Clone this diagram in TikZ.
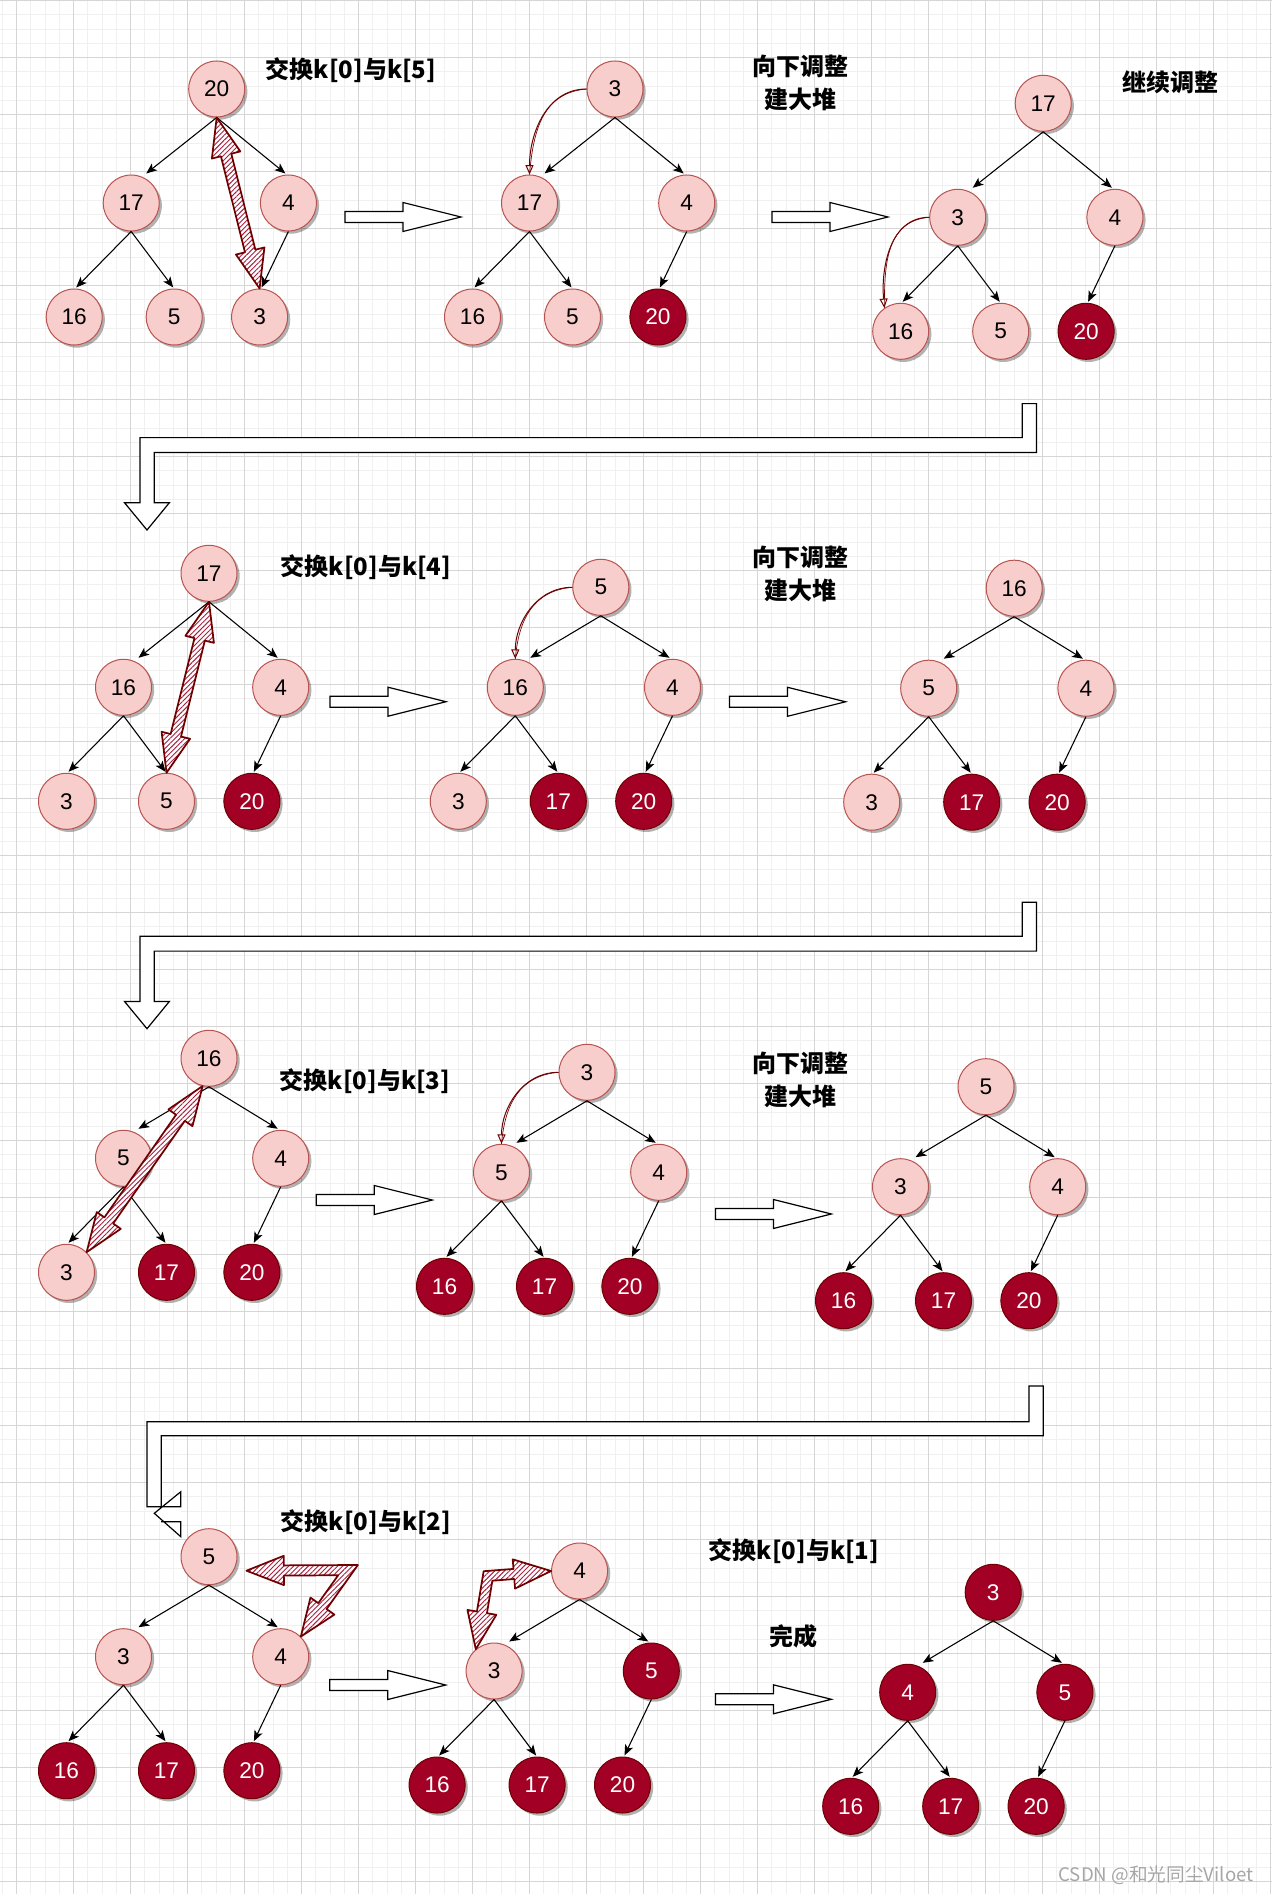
\documentclass[tikz,border=0pt]{standalone}
\usepackage{fontspec}
\setmainfont{Liberation Sans}
\newfontfamily\cjk{Noto Sans CJK SC}
\usetikzlibrary{arrows.meta,calc,shadows,patterns.meta}

\definecolor{nodefill}{HTML}{F8CECC}
\definecolor{nodeline}{HTML}{B85450}
\definecolor{donefill}{HTML}{A20025}
\definecolor{doneline}{HTML}{6F0000}
\definecolor{swapline}{HTML}{6F0000}
\definecolor{swaphatch}{HTML}{A8203F}
\definecolor{gridmajor}{HTML}{D6D6D6}
\definecolor{gridminor}{HTML}{F0F0F0}

\tikzset{
  heapnode/.style={circle, minimum size=42pt, inner sep=0pt, line width=0.75pt,
    font=\fontsize{17}{17}\selectfont,
    drop shadow={shadow xshift=2pt, shadow yshift=-2pt, opacity=0.3, fill=black}},
  pinknode/.style={heapnode, fill=nodefill, draw=nodeline},
  rednode/.style={heapnode, fill=donefill, draw=doneline, text=white},
  link/.style={draw=black, line width=0.8pt, -{Stealth[length=8pt,width=6.5pt,inset=2pt]}},
  blockarr/.style={draw=black, fill=white, line width=0.9pt, line join=miter},
  swapshape/.style={draw=swapline, line width=1.3pt, line join=round,
    preaction={fill=white},
    pattern={Lines[angle=45,distance=2.6pt,line width=0.7pt]}, pattern color=swaphatch},
  curvearr/.style={draw=swapline, line width=0.75pt, -{Triangle[open,length=7pt,width=6pt]}},
  curveline/.style={draw=swapline, line width=0.5pt},
  lbl/.style={font=\cjk\bfseries\fontsize{18}{24.75}\selectfont, align=center, inner sep=0pt},
}

% one heap: prefix, root position, level gap, then the six nodes (root, left, right, three leaves)
\newcommand\heap[9]{%
  \begin{scope}[shift={(#2)}]
    \node (#1r) at (0,0) #4;
    \node (#1a) at (-85.5,#3) #5;
    \node (#1b) at (71.7,#3) #6;
    \node (#1c) at (-142.5,#3+114) #7;
    \node (#1d) at (-42.5,#3+114) #8;
    \node (#1e) at (42.9,#3+114) #9;
  \end{scope}
  \draw[link] (#1r.south) -- ($(#1a.north)+(15,-1)$);
  \draw[link] (#1r.south) -- ($(#1b.north)+(-3,-1)$);
  \draw[link] (#1a.south) -- ($(#1c.north)+(2,-1)$);
  \draw[link] (#1a.south) -- ($(#1d.north)+(-1,-1)$);
  \draw[link] (#1b.south) -- ($(#1e.north)+(2,-1)$);
}

% hollow right-pointing block arrow: start x, centre y
\newcommand\rarrow[2]{\draw[blockarr] (#1,#2) ++(0,-5.5) -- ++(58,0) -- ++(0,-9)
  -- ++(58,14.5) -- ++(-58,14.5) -- ++(0,-9) -- ++(-58,0) -- cycle;}

% straight double-headed hatched arrow: tip A, tip B, head length, head half-width, shaft half-width
\newcommand\dswap[5]{%
  \draw[swapshape] (#1) -- ($(#1)!#3!(#2)!#4!90:(#2)$) -- ($(#1)!#3!(#2)!#5!90:(#2)$)
    -- ($(#2)!#3!(#1)!#5!-90:(#1)$) -- ($(#2)!#3!(#1)!#4!-90:(#1)$) -- (#2)
    -- ($(#2)!#3!(#1)!#4!90:(#1)$) -- ($(#2)!#3!(#1)!#5!90:(#1)$)
    -- ($(#1)!#3!(#2)!#5!-90:(#2)$) -- ($(#1)!#3!(#2)!#4!-90:(#2)$) -- cycle;}

% bent double-headed hatched arrow: prefix, tip A, corner M, tip B, head length, head half-width, shaft half-width
\newcommand\bentswap[7]{%
  \coordinate (#1A) at (#2); \coordinate (#1M) at (#3); \coordinate (#1B) at (#4);
  \coordinate (#1l1) at ($(#1A)!#7!90:(#1M)$);
  \coordinate (#1l2) at ($(#1M)!#7!-90:(#1A)$);
  \coordinate (#1l3) at ($(#1M)!#7!90:(#1B)$);
  \coordinate (#1l4) at ($(#1B)!#7!-90:(#1M)$);
  \coordinate (#1L) at (intersection of #1l1--#1l2 and #1l3--#1l4);
  \coordinate (#1r1) at ($(#1A)!#7!-90:(#1M)$);
  \coordinate (#1r2) at ($(#1M)!#7!90:(#1A)$);
  \coordinate (#1r3) at ($(#1M)!#7!-90:(#1B)$);
  \coordinate (#1r4) at ($(#1B)!#7!90:(#1M)$);
  \coordinate (#1R) at (intersection of #1r1--#1r2 and #1r3--#1r4);
  \draw[swapshape] (#1A) -- ($(#1A)!#5!(#1M)!#6!90:(#1M)$) -- ($(#1A)!#5!(#1M)!#7!90:(#1M)$)
    -- (#1L) -- ($(#1B)!#5!(#1M)!#7!-90:(#1M)$) -- ($(#1B)!#5!(#1M)!#6!-90:(#1M)$) -- (#1B)
    -- ($(#1B)!#5!(#1M)!#6!90:(#1M)$) -- ($(#1B)!#5!(#1M)!#7!90:(#1M)$)
    -- (#1R) -- ($(#1A)!#5!(#1M)!#7!-90:(#1M)$) -- ($(#1A)!#5!(#1M)!#6!-90:(#1M)$) -- cycle;}

\begin{document}
\begin{tikzpicture}[x=0.75pt, y=-0.75pt]
  \fill[white] (0,0) rectangle (1272,1894);
  \useasboundingbox (0,0) rectangle (1272,1894);

  % background grid
  \foreach \i in {0,...,89}
    \draw[gridminor, line width=0.75pt] ({2.45+14.25*\i},0) -- ({2.45+14.25*\i},1894);
  \foreach \i in {0,...,132}
    \draw[gridminor, line width=0.75pt] (0,{0.7+14.25*\i}) -- (1272,{0.7+14.25*\i});
  \foreach \i in {0,...,22}
    \draw[gridmajor, line width=0.9pt] ({16.7+57*\i},0) -- ({16.7+57*\i},1894);
  \foreach \i in {0,...,33}
    \draw[gridmajor, line width=0.9pt] (0,{0.7+57*\i}) -- (1272,{0.7+57*\i});

  % step arrows between heaps
  \rarrow{345}{217}
  \rarrow{772}{217}
  \rarrow{330}{701.7}
  \rarrow{729.5}{701.8}
  \rarrow{316.3}{1200}
  \rarrow{715.4}{1214}
  \rarrow{329.8}{1685}
  \rarrow{715.4}{1699.3}

  % return arrows to the next row
  \draw[blockarr] (1022.3,403.6) -- (1022.3,437.6) -- (140,437.6) -- (140,502.7) -- (124.5,502.7)
    -- (147,530) -- (169.4,502.7) -- (154.3,502.7) -- (154.3,452.4) -- (1036.4,452.4)
    -- (1036.4,403.6) -- cycle;
  \begin{scope}[shift={(0,498.7)}]
    \draw[blockarr] (1022.3,403.6) -- (1022.3,437.6) -- (140,437.6) -- (140,502.7) -- (124.5,502.7)
      -- (147,530) -- (169.4,502.7) -- (154.3,502.7) -- (154.3,452.4) -- (1036.4,452.4)
      -- (1036.4,403.6) -- cycle;
  \end{scope}
  \fill[white] (1029,1386) -- (1029,1421.7) -- (147,1421.7) -- (147,1506.7) -- (180.8,1506.7)
    -- (180.8,1521.7) -- (161.2,1521.7) -- (161.2,1435.7) -- (1043.2,1435.7) -- (1043.2,1386) -- cycle;
  \fill[white] (180.8,1491.7) -- (154.3,1513.3) -- (180.8,1536.7) -- cycle;
  \draw[black, line width=0.9pt] (161.2,1507.7) -- (161.2,1435.7) -- (1043.2,1435.7) -- (1043.2,1386)
    -- (1029,1386) -- (1029,1421.7) -- (147,1421.7) -- (147,1506.7) -- (180.8,1506.7)
    -- (180.8,1491.7) -- (154.3,1513.3) -- (180.8,1536.7) -- (180.8,1521.7) -- (161.2,1521.7);

  % heaps
  \heap{t1}{216.7,89}{114}{[pinknode]{20}}{[pinknode]{17}}{[pinknode]{4}}{[pinknode]{16}}{[pinknode]{5}}{[pinknode]{3}}
  \heap{t2}{615,89}{114}{[pinknode]{3}}{[pinknode]{17}}{[pinknode]{4}}{[pinknode]{16}}{[pinknode]{5}}{[rednode]{20}}
  \heap{t3}{1043.2,103.3}{114}{[pinknode]{17}}{[pinknode]{3}}{[pinknode]{4}}{[pinknode]{16}}{[pinknode]{5}}{[rednode]{20}}
  \heap{t4}{209,573.3}{114}{[pinknode]{17}}{[pinknode]{16}}{[pinknode]{4}}{[pinknode]{3}}{[pinknode]{5}}{[rednode]{20}}
  \heap{t5}{600.8,587.3}{100}{[pinknode]{5}}{[pinknode]{16}}{[pinknode]{4}}{[pinknode]{3}}{[rednode]{17}}{[rednode]{20}}
  \heap{t6}{1014.2,588.2}{100}{[pinknode]{16}}{[pinknode]{5}}{[pinknode]{4}}{[pinknode]{3}}{[rednode]{17}}{[rednode]{20}}
  \heap{t7}{209,1058.3}{100}{[pinknode]{16}}{[pinknode]{5}}{[pinknode]{4}}{[pinknode]{3}}{[rednode]{17}}{[rednode]{20}}
  \heap{t8}{587,1072.3}{100}{[pinknode]{3}}{[pinknode]{5}}{[pinknode]{4}}{[rednode]{16}}{[rednode]{17}}{[rednode]{20}}
  \heap{t9}{986,1086.7}{100}{[pinknode]{5}}{[pinknode]{3}}{[pinknode]{4}}{[rednode]{16}}{[rednode]{17}}{[rednode]{20}}
  \heap{t10}{209,1556.7}{100}{[pinknode]{5}}{[pinknode]{3}}{[pinknode]{4}}{[rednode]{16}}{[rednode]{17}}{[rednode]{20}}
  \heap{t11}{579.6,1571}{100}{[pinknode]{4}}{[pinknode]{3}}{[rednode]{5}}{[rednode]{16}}{[rednode]{17}}{[rednode]{20}}
  \heap{t12}{993.2,1592.3}{100}{[rednode]{3}}{[rednode]{4}}{[rednode]{5}}{[rednode]{16}}{[rednode]{17}}{[rednode]{20}}

  % sift-down paths
  \draw[curveline] (t2r.west) to[out=185,in=85,looseness=1.1] (t2a.north);
  \draw[curvearr] (t2r.west) to[out=180,in=90] (t2a.north);
  \draw[curveline] (t3a.west) to[out=185,in=90,looseness=1.1] (t3c.125);
  \draw[curvearr] (t3a.west) to[out=180,in=95] (t3c.125);
  \draw[curveline] (t5r.west) to[out=185,in=85,looseness=1.1] (t5a.north);
  \draw[curvearr] (t5r.west) to[out=180,in=90] (t5a.north);
  \draw[curveline] (t8r.west) to[out=185,in=85,looseness=1.1] (t8a.north);
  \draw[curvearr] (t8r.west) to[out=180,in=90] (t8a.north);

  % swaps of the root with the last unsorted element
  \dswap{t1r.south}{t1e.north}{29pt}{11pt}{4pt}
  \dswap{t4r.south}{t4d.north}{29pt}{11pt}{4pt}
  \dswap{t7r.-103}{t7c.45}{29pt}{11pt}{4pt}
  \bentswap{sa}{$(t10r.east)+(9,14)$}{348,1570}{t10b.45}{28pt}{11pt}{3.8pt}
  \bentswap{sb}{t11r.west}{488,1576}{t11a.130}{28pt}{11pt}{3.8pt}

  % captions
  \node[lbl] (s1) at (351,70) {交换k[0]与k[5]};
  \node[lbl] (s2) at (800,82.5) {向下调整\\建大堆};
  \node[lbl] (s3) at (1170,82) {继续调整};
  \node[lbl] (s4) at (366,567.5) {交换k[0]与k[4]};
  \node[lbl] (s5) at (800,574) {向下调整\\建大堆};
  \node[lbl] (s6) at (365,1081) {交换k[0]与k[3]};
  \node[lbl] (s7) at (800,1080) {向下调整\\建大堆};
  \node[lbl] (s8) at (366,1522.5) {交换k[0]与k[2]};
  \node[lbl] (s9) at (794,1551) {交换k[0]与k[1]};
  \node[lbl] (s10) at (793,1636) {完成};
  \node[font=\cjk\fontsize{14}{14}\selectfont, text=black!35, inner sep=0pt] (wm) at (1156,1875) {CSDN @和光同尘Viloet};
\end{tikzpicture}
\end{document}
